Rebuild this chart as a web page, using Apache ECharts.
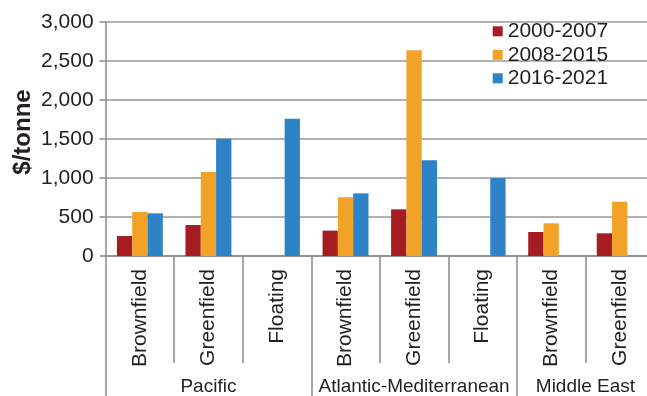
<!DOCTYPE html>
<html>
<head>
<meta charset="utf-8">
<script src="https://cdn.jsdelivr.net/npm/echarts@6/dist/echarts.min.js"></script>
<style>
html,body{margin:0;padding:0;overflow:hidden;background:#fff;width:647px;height:396px;}
#chart{width:654px;height:396px;}
</style>
</head>
<body>
<div id="chart"></div>
<script>
const categories = ['Brownfield','Greenfield','Floating','Brownfield','Greenfield','Floating','Brownfield','Greenfield'];
const groups = ['Pacific','Atlantic-Mediterranean','Middle East'];
const groupSizes = [3,3,2];
const seriesNames = ['2000-2007','2008-2015','2016-2021'];
const s2000_2007 = [256, 397, null, 325, 598, null, 308, 291];
const s2008_2015 = [564, 1077, null, 752, 2637, null, 419, 696];
const s2016_2021 = [547, 1504, 1760, 803, 1226, 1000, null, null];
const yTicks = [0, 500, 1000, 1500, 2000, 2500, 3000];

const colors = ['#A51C22','#F2A227','#2E82C6'];
const FONT = '"Liberation Sans", Arial, sans-serif';
const TXT = '#231f20';
const AX = '#8a8a8a';

// group centres and boundaries on a 0..N continuous scale
const groupCenters = [], groupBounds = [0];
let acc = 0;
groupSizes.forEach(s => { groupCenters.push(acc + s/2); acc += s; groupBounds.push(acc); });

const chart = echarts.init(document.getElementById('chart'));
chart.setOption({
  animation: false,
  textStyle: {fontFamily: FONT},
  color: colors,
  grid: {left: 105.6, right: 0, top: 22, bottom: 140, containLabel: false, outerBoundsMode: 'none'},
  legend: {
    orient: 'vertical', left: 492.7, top: 20.8, padding: 0,
    itemWidth: 10, itemHeight: 10, itemGap: 2.5,
    icon: 'rect',
    textStyle: {fontSize: 21, color: TXT, fontFamily: FONT, lineHeight: 21},
    data: seriesNames
  },
  xAxis: [{
    type: 'category',
    data: categories,
    axisLine: {show: true, lineStyle: {color: AX, width: 1.5}},
    axisTick: {show: true, interval: 0, length: 107, lineStyle: {color: AX, width: 1.5}},
    axisLabel: {interval: 0, rotate: 90, margin: 13, fontSize: 21, color: TXT, fontFamily: FONT},
    splitLine: {show: false}
  }, {
    type: 'value',
    position: 'bottom',
    min: 0, max: categories.length,
    axisLine: {show: false},
    splitLine: {show: false},
    axisTick: {show: true, customValues: groupBounds, length: 150, lineStyle: {color: AX, width: 1.5}},
    axisLabel: {
      show: true, customValues: groupCenters, margin: 121, fontSize: 19, color: TXT, fontFamily: FONT,
      formatter: v => { const i = groupCenters.indexOf(v); return i >= 0 ? groups[i] : ''; }
    }
  }],
  yAxis: {
    type: 'value',
    min: yTicks[0], max: yTicks[yTicks.length-1], interval: 500,
    name: '$/tonne', nameLocation: 'middle', nameRotate: 90, nameGap: 70, nameMoveOverlap: false,
    nameTextStyle: {fontSize: 24, fontWeight: 'bold', color: TXT, fontFamily: FONT, padding: [0,0,0,14]},
    axisLine: {show: true, lineStyle: {color: AX, width: 1.5}},
    axisTick: {show: true, length: 6, lineStyle: {color: AX, width: 1.5}},
    axisLabel: {margin: 12, fontSize: 21, color: TXT, fontFamily: FONT,
      formatter: v => v.toLocaleString('en-US')},
    splitLine: {show: true, lineStyle: {color: '#999', width: 1.5}}
  },
  series: [
    {name: seriesNames[0], type: 'bar', data: s2000_2007, barGap: '0%', barCategoryGap: '33%'},
    {name: seriesNames[1], type: 'bar', data: s2008_2015, barGap: '0%', barCategoryGap: '33%'},
    {name: seriesNames[2], type: 'bar', data: s2016_2021, barGap: '0%', barCategoryGap: '33%'}
  ]
});
</script>
</body>
</html>
